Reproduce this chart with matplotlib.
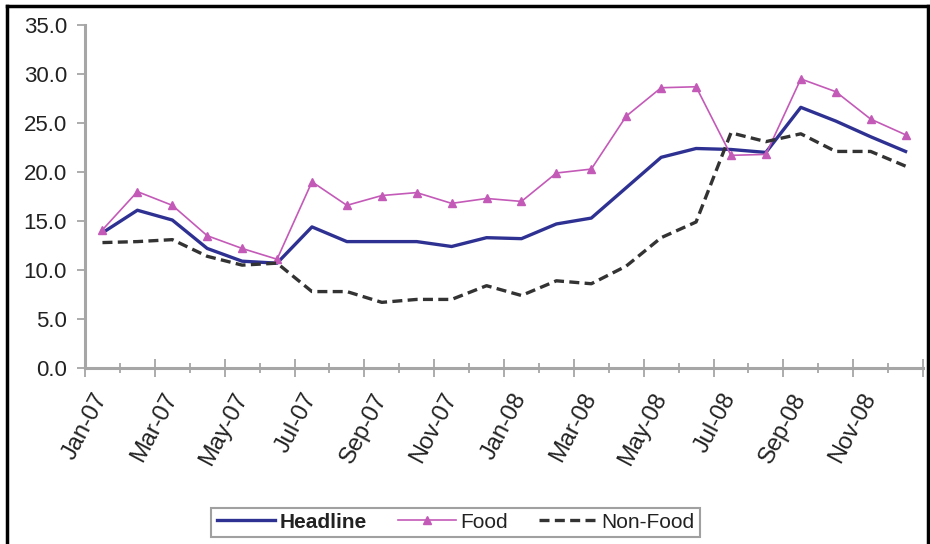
import numpy as np
import matplotlib
matplotlib.use('Agg')
import matplotlib.pyplot as plt
from matplotlib.lines import Line2D

plt.rcParams['font.family'] = ['Liberation Sans', 'DejaVu Sans']

# Data (monthly inflation, Jan-07 .. Dec-08)
months = ['Jan-07', 'Feb-07', 'Mar-07', 'Apr-07', 'May-07', 'Jun-07',
          'Jul-07', 'Aug-07', 'Sep-07', 'Oct-07', 'Nov-07', 'Dec-07',
          'Jan-08', 'Feb-08', 'Mar-08', 'Apr-08', 'May-08', 'Jun-08',
          'Jul-08', 'Aug-08', 'Sep-08', 'Oct-08', 'Nov-08', 'Dec-08']
headline = [13.8, 16.1, 15.1, 12.2, 10.9, 10.7, 14.4, 12.9, 12.9, 12.9, 12.4, 13.3,
            13.2, 14.7, 15.3, 18.4, 21.5, 22.4, 22.3, 22.0, 26.6, 25.2, 23.6, 22.1]
food = [14.1, 18.0, 16.6, 13.5, 12.2, 11.1, 19.0, 16.6, 17.6, 17.9, 16.8, 17.3,
        17.0, 19.9, 20.3, 25.7, 28.6, 28.7, 21.7, 21.8, 29.5, 28.2, 25.4, 23.8]
non_food = [12.8, 12.9, 13.1, 11.4, 10.5, 10.7, 7.8, 7.8, 6.7, 7.0, 7.0, 8.4,
            7.4, 8.9, 8.6, 10.4, 13.3, 14.9, 24.0, 23.1, 23.9, 22.1, 22.1, 20.6]

x = np.arange(len(months))
axis_grey = '#a6a6a6'
text_col = '#222222'

fig = plt.figure(figsize=(9.30, 5.44), dpi=100)
ax = fig.add_axes([0.0914, 0.3235, 0.9011, 0.6305])

ax.plot(x, headline, color='#2e3192', lw=2.4, label='Headline')
ax.plot(x, food, color='#c45ab8', lw=1.2, marker='^', markersize=6, label='Food')
ax.plot(x, non_food, color='#333333', lw=2.4, dashes=(3.0, 1.6), label='Non-Food')

ax.set_xlim(-0.5, len(months) - 0.5)
ax.set_ylim(0, 35)
ax.set_yticks(np.arange(0, 36, 5))
ax.set_yticklabels([f'{v:.1f}' for v in np.arange(0, 36, 5)])

# boundary ticks: long at even boundaries, short at odd ones
ax.set_xticks(np.arange(-0.5, len(months), 2))
ax.set_xticks(np.arange(0.5, len(months), 2), minor=True)
ax.tick_params(axis='x', which='major', direction='inout', length=13, width=1.3,
               color=axis_grey, labelbottom=False)
ax.tick_params(axis='x', which='minor', direction='inout', length=7, width=1.3,
               color=axis_grey)
ax.tick_params(axis='y', direction='out', length=6, width=1.3, color=axis_grey,
               pad=7, labelsize=16, labelcolor=text_col)

# month labels on a secondary axis at category centres
sec = ax.secondary_xaxis('bottom')
sec.set_xticks(x[::2])
sec.set_xticklabels(months[::2], rotation=62, ha='right', va='center',
                    rotation_mode='anchor', fontsize=17, color=text_col)
sec.tick_params(length=0, pad=19)
sec.spines['bottom'].set_visible(False)

for s in ['top', 'right']:
    ax.spines[s].set_visible(False)
for s in ['left', 'bottom']:
    ax.spines[s].set_color(axis_grey)
    ax.spines[s].set_linewidth(2.2)

leg = fig.legend(loc='center', bbox_to_anchor=(0.49, 0.04), ncol=3, fontsize=15,
                 frameon=True, fancybox=False, handlelength=2.8, columnspacing=1.5,
                 handletextpad=0.2, borderpad=0.25, labelcolor=text_col)
leg.get_frame().set_edgecolor('#888888')
leg.get_frame().set_linewidth(1.5)
leg.get_texts()[0].set_fontweight('bold')

# outer frame (left, top, right)
W, H = 930, 544
fig.add_artist(Line2D([7 / W, 7 / W], [0, 1 - 6 / H], color='black', lw=2.5,
                      transform=fig.transFigure))
fig.add_artist(Line2D([7 / W, 928 / W], [1 - 6 / H, 1 - 6 / H], color='black', lw=2.5,
                      transform=fig.transFigure))
fig.add_artist(Line2D([928 / W, 928 / W], [0, 1 - 6 / H], color='black', lw=2.5,
                      transform=fig.transFigure))

fig.savefig('out.png', dpi=100)
